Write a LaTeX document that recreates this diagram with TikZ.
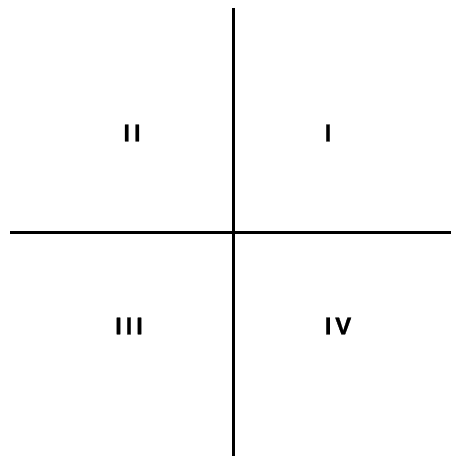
\documentclass[tikz,border=0pt]{standalone}
\usepackage{fontspec}
\setmainfont{Liberation Sans}[FakeBold=1.2]
\begin{document}
\begin{tikzpicture}[x=1pt,y=1pt,
  axis/.style={line width=3pt, black},
  quad/.style={inner sep=0pt, font=\fontsize{24}{28}\selectfont\addfontfeatures{LetterSpace=16}}]
\useasboundingbox (0,0) rectangle (451,456);
\coordinate (top) at (233.5,448);
\coordinate (bot) at (233.5,0);
\coordinate (left) at (10,223);
\coordinate (right) at (451,223);
\draw[axis] (top) -- (bot);
\draw[axis] (left) -- (right);
\node[quad] (q2) at (132,323) {\bfseries II};
\node[quad] (q1) at (328,323) {\bfseries I};
\node[quad] (q3) at (129,130) {\bfseries III};
\node[quad] (q4) at (338,130) {\bfseries IV};
\end{tikzpicture}
\end{document}
